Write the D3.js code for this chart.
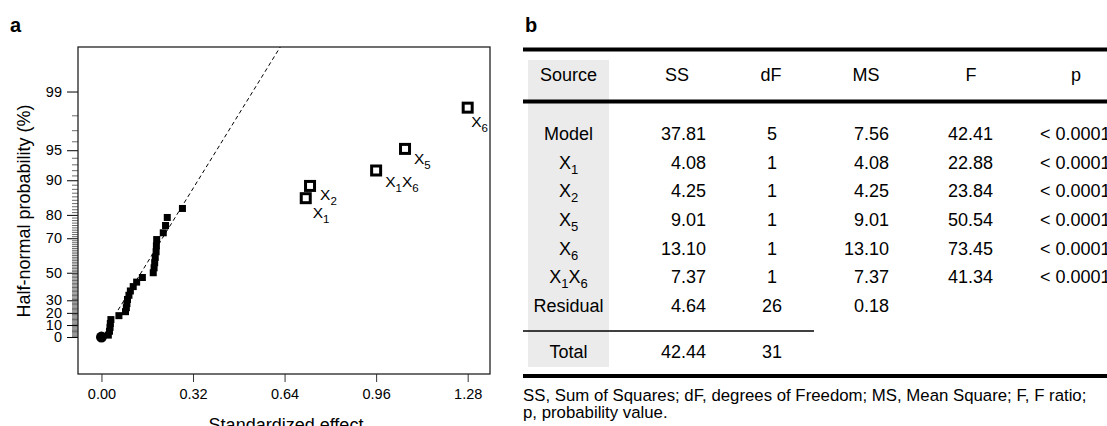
<!DOCTYPE html>
<html>
<head>
<meta charset="utf-8">
<script src="https://cdn.jsdelivr.net/npm/d3@7"></script>
<style>
  body { margin: 0; background: #fff; }
  text { font-family: "Liberation Sans", Arial, sans-serif; fill: #000; }
</style>
</head>
<body>
<svg id="fig" width="1107" height="426"></svg>
<script>
// ---- panel a: half-normal plot ----
// small (non-significant) effects and their half-normal probability (%)
const smallEffects = [0.024, 0.028, 0.030, 0.031, 0.033, 0.061, 0.084, 0.087, 0.089, 0.091,
  0.096, 0.101, 0.111, 0.123, 0.143, 0.181, 0.184, 0.186, 0.188, 0.191,
  0.192, 0.193, 0.216, 0.224, 0.230, 0.283];
const smallPct = [1.61, 4.84, 8.06, 11.29, 14.52, 17.74, 20.97, 24.19, 27.42, 30.65,
  33.87, 37.10, 40.32, 43.55, 46.77, 50.00, 53.23, 56.45, 59.68, 62.90,
  66.13, 69.35, 72.58, 75.81, 79.03, 82.26];
// significant terms
const bigTerms = ['X1', 'X2', 'X1X6', 'X5', 'X6'];
const bigEffects = [0.714, 0.729, 0.960, 1.061, 1.280];
const bigPct = [85.48, 88.71, 91.94, 95.16, 98.39];
const xTicks = [0, 0.32, 0.64, 0.96, 1.28];
const yTicks = [0, 10, 20, 30, 50, 70, 80, 90, 95, 99];
const fitSlope = 4.87;   // half-normal quantile per unit effect
const fitStart = 0.058;

// ---- panel b: ANOVA table ----
const tableHead = ['Source', 'SS', 'dF', 'MS', 'F', 'p'];
const sources = ['Model', 'X1', 'X2', 'X5', 'X6', 'X1X6', 'Residual'];
const ssVals = ['37.81', '4.08', '4.25', '9.01', '13.10', '7.37', '4.64'];
const dfVals = ['5', '1', '1', '1', '1', '1', '26'];
const msVals = ['7.56', '4.08', '4.25', '9.01', '13.10', '7.37', '0.18'];
const fVals = ['42.41', '22.88', '23.84', '50.54', '73.45', '41.34', ''];
const pVals = ['< 0.0001', '< 0.0001', '< 0.0001', '< 0.0001', '< 0.0001', '< 0.0001', ''];
const totalRow = ['Total', '42.44', '31'];
const footnote = ['SS, Sum of Squares; dF, degrees of Freedom; MS, Mean Square; F, F ratio;',
  'p, probability value.'];

// inverse normal cdf (Acklam)
function probit(p) {
  const a = [-3.969683028665376e+01, 2.209460984245205e+02, -2.759285104469687e+02, 1.383577518672690e+02, -3.066479806614716e+01, 2.506628277459239e+00];
  const b = [-5.447609879822406e+01, 1.615858368580409e+02, -1.556989798598866e+02, 6.680131188771972e+01, -1.328068155288572e+01];
  const c = [-7.784894002430293e-03, -3.223964580411365e-01, -2.400758277161838e+00, -2.549732539343734e+00, 4.374664141464968e+00, 2.938163982698783e+00];
  const d = [7.784695709041462e-03, 3.224671290700398e-01, 2.445134137142996e+00, 3.754408661907416e+00];
  const pl = 0.02425;
  let q, r;
  if (p < pl) {
    q = Math.sqrt(-2 * Math.log(p));
    return (((((c[0]*q+c[1])*q+c[2])*q+c[3])*q+c[4])*q+c[5]) / ((((d[0]*q+d[1])*q+d[2])*q+d[3])*q+1);
  }
  if (p <= 1 - pl) {
    q = p - 0.5; r = q * q;
    return (((((a[0]*r+a[1])*r+a[2])*r+a[3])*r+a[4])*r+a[5])*q / (((((b[0]*r+b[1])*r+b[2])*r+b[3])*r+b[4])*r+1);
  }
  q = Math.sqrt(-2 * Math.log(1 - p));
  return -(((((c[0]*q+c[1])*q+c[2])*q+c[3])*q+c[4])*q+c[5]) / ((((d[0]*q+d[1])*q+d[2])*q+d[3])*q+1);
}
const hn = pct => probit(0.5 + pct / 200);

// writes "X1X6" style labels with subscripts
function writeTerm(text, label, subSize, subDy) {
  const parts = label.match(/X\d/g);
  if (!parts) { text.text(label); return; }
  parts.forEach((p, i) => {
    text.append('tspan').text('X').attr('dy', i ? -subDy : null);
    text.append('tspan').text(p[1]).attr('font-size', subSize).attr('dy', subDy);
  });
}

const svg = d3.select('#fig');
const box = { left: 78, right: 490, top: 47, bottom: 374 };

const x = d3.scaleLinear().domain([-0.082, 1.358]).range([box.left, box.right]);
const y = d3.scaleLinear().domain([-0.388, 3.043]).range([box.bottom, box.top]);

svg.append('text').text('a')
  .attr('x', 10).attr('y', 32)
  .attr('font-size', 20).attr('font-weight', 'bold');

// minor ticks every 1 %
const minor = d3.range(1, 99).filter(v => yTicks.indexOf(v) < 0);
svg.append('g')
  .attr('transform', `translate(${box.left},0)`)
  .call(d3.axisLeft(y).tickValues(minor.map(hn)).tickSize(6).tickFormat(''))
  .call(g => g.select('.domain').remove())
  .call(g => g.selectAll('line').attr('stroke', '#444').attr('stroke-width', 0.8));

svg.append('g')
  .attr('transform', `translate(${box.left},0)`)
  .call(d3.axisLeft(y).tickValues(yTicks.map(hn)).tickSize(11).tickPadding(5)
    .tickFormat((d, i) => yTicks[i]))
  .call(g => g.select('.domain').remove())
  .call(g => g.selectAll('text').attr('font-size', 14.5).attr('font-family', null))
  .call(g => g.selectAll('line').attr('stroke', '#000'));

svg.append('g')
  .attr('transform', `translate(0,${box.bottom})`)
  .call(d3.axisBottom(x).tickValues(xTicks).tickSize(8).tickPadding(7)
    .tickFormat(d3.format('.2f')))
  .call(g => g.select('.domain').remove())
  .call(g => g.selectAll('text').attr('font-size', 14.5).attr('font-family', null))
  .call(g => g.selectAll('line').attr('stroke', '#333'));

svg.append('rect')
  .attr('x', box.left).attr('y', box.top)
  .attr('width', box.right - box.left).attr('height', box.bottom - box.top)
  .attr('fill', 'none').attr('stroke', '#222').attr('stroke-width', 1.3);

svg.append('text').text('Half-normal probability (%)')
  .attr('transform', 'translate(30,211) rotate(-90)')
  .attr('text-anchor', 'middle').attr('font-size', 18);

svg.append('text').text('Standardized effect')
  .attr('x', 286).attr('y', 431)
  .attr('text-anchor', 'middle').attr('font-size', 18);

// fitted line through the origin
const zTop = y.domain()[1];
svg.append('line')
  .attr('x1', x(fitStart)).attr('y1', y(fitSlope * fitStart))
  .attr('x2', x(zTop / fitSlope)).attr('y2', y(zTop))
  .attr('stroke', '#000').attr('stroke-width', 1)
  .attr('stroke-dasharray', '4,3');

svg.append('circle')
  .attr('cx', x(0)).attr('cy', y(hn(0))).attr('r', 5.5)
  .attr('fill', '#000');

svg.selectAll('rect.small')
  .data(smallEffects)
  .enter()
  .append('rect')
  .attr('class', 'small')
  .attr('x', d => x(d) - 3.5)
  .attr('y', (d, i) => y(hn(smallPct[i])) - 3.5)
  .attr('width', 7).attr('height', 7)
  .attr('fill', '#000');

svg.selectAll('rect.big')
  .data(bigEffects)
  .enter()
  .append('rect')
  .attr('class', 'big')
  .attr('x', d => x(d) - 4.5)
  .attr('y', (d, i) => y(hn(bigPct[i])) - 4.5)
  .attr('width', 9).attr('height', 9)
  .attr('fill', '#fff').attr('stroke', '#000').attr('stroke-width', 3);

// label offsets from each open square (px)
const labelOffset = { X1: [7, 20], X2: [10, 14], X1X6: [9, 16.5], X5: [9, 15.5], X6: [3.5, 19.5] };
bigTerms.forEach((t, i) => {
  const txt = svg.append('text')
    .attr('x', x(bigEffects[i]) + labelOffset[t][0])
    .attr('y', y(hn(bigPct[i])) + labelOffset[t][1])
    .attr('font-size', 15.5);
  writeTerm(txt, t, 11.5, 5);
});

// ---- table ----
const tb = { left: 523, right: 1107, headY: 81, row0: 140, rowH: 28.67, totalY: 358 };
const colX = [568.5, 706, 772, 889, 993, 1040];
const colAnchor = ['middle', 'end', 'middle', 'end', 'end', 'start'];
const headX = [568.5, 677, 771, 866, 971, 1076];

svg.append('text').text('b')
  .attr('x', 525).attr('y', 32)
  .attr('font-size', 20).attr('font-weight', 'bold');

svg.append('rect')
  .attr('x', 528).attr('y', 60)
  .attr('width', 81).attr('height', 307)
  .attr('fill', '#ebebeb');

const hline = (x1, x2, yy, w) => svg.append('line')
  .attr('x1', x1).attr('x2', x2).attr('y1', yy).attr('y2', yy)
  .attr('stroke', '#000').attr('stroke-width', w);
hline(tb.left, tb.right, 49.5, 4);
hline(tb.left, tb.right, 101.5, 4);
hline(tb.left, 814, 331, 1.5);
hline(tb.left, tb.right, 376, 4);

svg.selectAll('text.head')
  .data(tableHead)
  .enter()
  .append('text')
  .attr('class', 'head')
  .text(d => d)
  .attr('x', (d, i) => headX[i])
  .attr('y', tb.headY)
  .attr('text-anchor', 'middle')
  .attr('font-size', 18);

const columns = [sources, ssVals, dfVals, msVals, fVals, pVals];
columns.forEach((col, c) => {
  col.forEach((v, r) => {
    const txt = svg.append('text')
      .attr('x', colX[c])
      .attr('y', tb.row0 + r * tb.rowH)
      .attr('text-anchor', colAnchor[c])
      .attr('font-size', 18);
    if (c === 0) writeTerm(txt, v, 13, 5);
    else txt.text(v);
  });
});

svg.selectAll('text.total')
  .data(totalRow)
  .enter()
  .append('text')
  .attr('class', 'total')
  .text(d => d)
  .attr('x', (d, i) => colX[i])
  .attr('y', tb.totalY)
  .attr('text-anchor', (d, i) => colAnchor[i])
  .attr('font-size', 18);

svg.selectAll('text.note')
  .data(footnote)
  .enter()
  .append('text')
  .attr('class', 'note')
  .text(d => d)
  .attr('x', tb.left)
  .attr('y', (d, i) => 401 + i * 17)
  .attr('font-size', 16.8);
</script>
</body>
</html>
